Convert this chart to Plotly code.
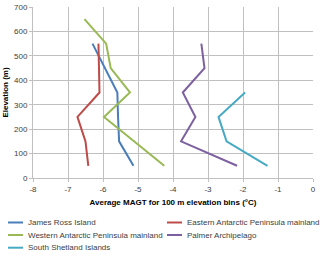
import plotly.graph_objects as go

names = ["James Ross Island", "Eastern Antarctic Peninsula mainland",
         "Western Antarctic Peninsula mainland", "Palmer Archipelago",
         "South Shetland Islands"]
colors = ["#4A7EBB", "#BE4B48", "#98B954", "#7D60A0", "#46AAC5"]

jri_elev = [550, 350, 250, 150, 50]
jri_magt = [-6.30, -5.59, -5.57, -5.54, -5.13]
eap_elev = [550, 450, 350, 250, 150, 50]
eap_magt = [-6.13, -6.12, -6.10, -6.73, -6.50, -6.42]
wap_elev = [650, 550, 450, 350, 250, 50]
wap_magt = [-6.53, -5.91, -5.78, -5.23, -5.97, -4.25]
pa_elev = [550, 450, 350, 250, 150, 50]
pa_magt = [-3.19, -3.10, -3.72, -3.36, -3.77, -2.17]
ssi_elev = [350, 250, 150, 50]
ssi_magt = [-1.94, -2.70, -2.47, -1.30]

series = [(jri_magt, jri_elev), (eap_magt, eap_elev), (wap_magt, wap_elev),
          (pa_magt, pa_elev), (ssi_magt, ssi_elev)]

x_ticks = [-8, -7, -6, -5, -4, -3, -2, -1, 0]
y_ticks = [0, 100, 200, 300, 400, 500, 600, 700]

fig = go.Figure()
for (xs, ys), n, c in zip(series, names, colors):
    fig.add_trace(go.Scatter(x=xs, y=ys, mode="lines", name=n,
                             line=dict(color=c, width=2), showlegend=False))

W, H = 320, 255
L, R, T, B = 33, 7, 7, 77
pw, ph = W - L - R, H - T - B

def px(xp):
    return (xp - L) / pw

def py(yp):
    return (H - B - yp) / ph

col_x = [8, 167]
row_y = [222.5, 235, 247.7]
shapes = []
annotations = []
for i, (n, c) in enumerate(zip(names, colors)):
    cx = col_x[i % 2]
    ry = row_y[i // 2]
    shapes.append(dict(type="line", xref="paper", yref="paper",
                       x0=px(cx), x1=px(cx + 15), y0=py(ry), y1=py(ry),
                       line=dict(color=c, width=2)))
    annotations.append(dict(text=n, xref="paper", yref="paper",
                            x=px(cx + 18), y=py(ry), xanchor="left", yanchor="middle",
                            showarrow=False,
                            font=dict(family="Liberation Sans, Arial", size=8, color="#404040")))

fig.update_layout(
    width=W, height=H,
    margin=dict(l=L, r=R, t=T, b=B, autoexpand=False),
    paper_bgcolor="white", plot_bgcolor="white",
    font=dict(family="Liberation Sans, Arial", size=8, color="#404040"),
    shapes=shapes, annotations=annotations,
    xaxis=dict(range=[-8, 0], tickvals=x_ticks, ticktext=[str(v) for v in x_ticks],
               automargin=False,
               showgrid=True, gridcolor="#C0C0C0", gridwidth=1,
               showline=True, linecolor="#C0C0C0", zeroline=False,
               ticks="outside", ticklen=3, tickcolor="#C0C0C0",
               tickfont=dict(size=8, color="#404040"),
               title=dict(text="<b>Average MAGT for 100 m elevation bins (°C)</b>",
                          font=dict(size=8, color="#000000"), standoff=6)),
    yaxis=dict(range=[0, 700], tickvals=y_ticks,
               automargin=False,
               showgrid=True, gridcolor="#C0C0C0", gridwidth=1,
               showline=True, linecolor="#C0C0C0", zeroline=False,
               ticks="outside", ticklen=3, tickcolor="#C0C0C0",
               tickfont=dict(size=8, color="#404040"),
               title=dict(text="<b>Elevation (m)</b>",
                          font=dict(size=8, color="#000000"), standoff=4)),
)

fig.write_html("out.html", config={"displayModeBar": False},
               post_script="document.body.style.margin='0';document.body.style.overflow='hidden';")
